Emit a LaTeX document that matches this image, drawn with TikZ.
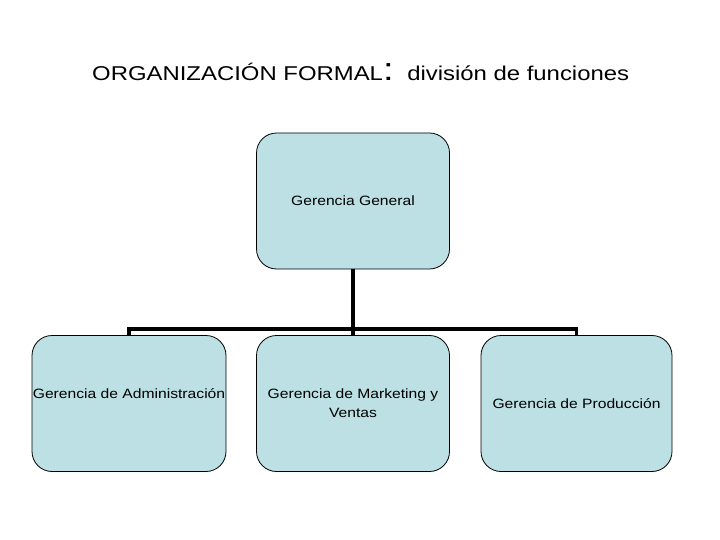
\documentclass[tikz,border=0pt]{standalone}
\usepackage{fontspec}
\setmainfont{Liberation Sans}[FakeStretch=1.16]
\newfontfamily\titulofont{Liberation Sans}[FakeStretch=1.195]
\definecolor{cajafondo}{RGB}{188,224,227}
\begin{document}
\begin{tikzpicture}[x=1pt, y=-1pt,
    caja/.style={draw, line width=0.8pt, fill=cajafondo, rounded corners=20pt,
        minimum width=193pt, minimum height=136pt, inner sep=0pt, align=center,
        font=\fontsize{13.5}{19}\selectfont},
    linea/.style={line width=3.5pt}]
    \useasboundingbox (0,0) rectangle (720,540);

    \node[anchor=base west, inner sep=0pt, font=\titulofont] (titulo) at (92,81)
        {\fontsize{20}{24}\selectfont ORGANIZACIÓN FORMAL{\fontsize{32}{32}\selectfont:}\hspace{7pt}
        división de funciones};

    \node[caja] (gerencia) at (353,201) {Gerencia General};
    \node[caja, minimum width=194pt] (admin) at (129,403.5) {Gerencia de Administración\\\mbox{}};
    \node[caja] (marketing) at (353,403.5) {Gerencia de Marketing y\\Ventas};
    \node[caja, minimum width=191pt] (produccion) at (576.5,403.5) {Gerencia de Producción};

    \coordinate (bus) at (353,329);
    \draw[linea] (gerencia.south) -- (bus);
    \draw[linea] (admin.north) |- (bus) -| (produccion.north);
    \draw[linea] (bus) -- (marketing.north);
\end{tikzpicture}
\end{document}
